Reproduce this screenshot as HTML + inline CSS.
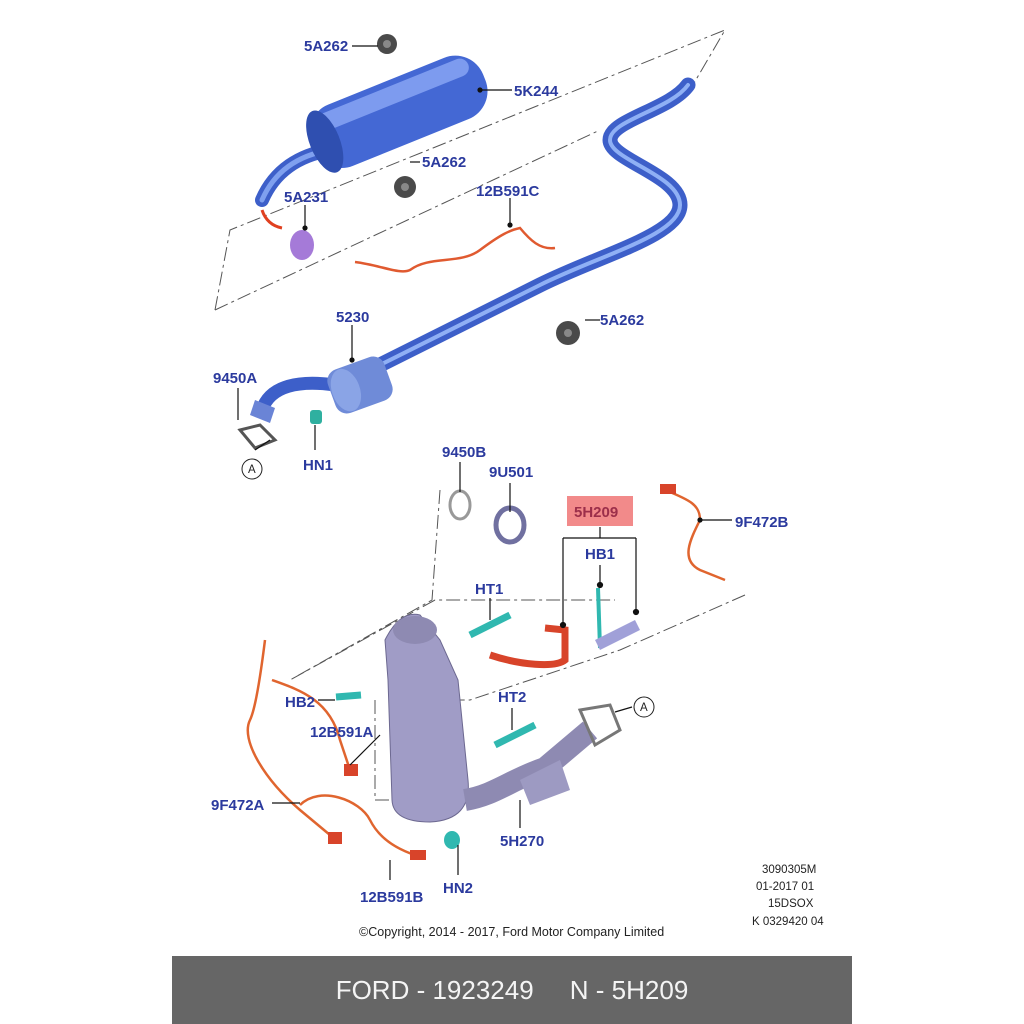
<!DOCTYPE html>
<html><head><style>
body{margin:0;background:#fff;}
.w{position:relative;width:1024px;height:1024px;overflow:hidden;font-family:"Liberation Sans",sans-serif;}
svg text.l{font-family:"Liberation Sans",sans-serif;font-weight:bold;font-size:15px;fill:#2b3a9e;}
svg text.s{font-family:"Liberation Sans",sans-serif;font-size:11.5px;fill:#222;}
.bar{position:absolute;left:172px;top:956px;width:680px;height:68px;background:#666;color:#f4f4f4;font-size:26px;line-height:68px;text-align:center;white-space:pre;}
</style></head><body><div class="w">
<svg width="1024" height="1024" viewBox="0 0 1024 1024">
<g fill="none" stroke="#555" stroke-width="1" stroke-dasharray="14,4,3,4">
<path d="M215 310 L230 230 L725 30 L690 90"/>
<path d="M215 310 L600 130"/>
<path d="M440 490 L432 600 L290 680 L435 600 L615 600"/>
<path d="M745 595 L620 650 L470 700 L430 700"/>
<path d="M375 700 L375 800 L400 800"/>
</g>
<g fill="none" stroke-linecap="round" stroke-linejoin="round">
<path d="M262 200 C275 170 300 155 330 150" stroke="#3d5fc9" stroke-width="14"/>
<path d="M262 200 C275 170 300 155 330 150" stroke="#7fa0ef" stroke-width="5"/>
<path d="M360 375 L540 285 C600 255 680 235 680 205 C680 175 610 160 610 140 C610 120 670 110 688 85" stroke="#3d5fc9" stroke-width="15"/>
<path d="M360 375 L540 285 C600 255 680 235 680 205 C680 175 610 160 610 140 C610 120 670 110 688 85" stroke="#8fb0f5" stroke-width="4"/>
<path d="M262 410 C270 385 300 380 335 385" stroke="#3d5fc9" stroke-width="13"/>
</g>
<g transform="rotate(-22 395 110)">
<rect x="305" y="80" width="185" height="66" rx="30" fill="#4468d4"/>
<rect x="315" y="86" width="165" height="18" rx="9" fill="#7d9bef"/>
<ellipse cx="318" cy="113" rx="15" ry="33" fill="#2f4fb0"/>
</g>
<g transform="rotate(-20 360 385)">
<rect x="330" y="362" width="60" height="46" rx="12" fill="#6f8bd8"/>
<ellipse cx="345" cy="385" rx="14" ry="22" fill="#8aa4e6"/>
</g>
<path d="M255 400 l20 8 l-5 15 l-20 -8z" fill="#6a84d6"/>
<g fill="#4a4a4a"><circle cx="387" cy="44" r="10"/><circle cx="405" cy="187" r="11"/><circle cx="568" cy="333" r="12"/></g>
<g fill="#888"><circle cx="387" cy="44" r="4"/><circle cx="405" cy="187" r="4"/><circle cx="568" cy="333" r="4"/></g>
<ellipse cx="302" cy="245" rx="12" ry="15" fill="#a57ad8"/>
<path d="M262 210 q5 15 20 18" stroke="#e04020" stroke-width="3" fill="none"/>
<path d="M355 262 C380 265 400 275 410 270 C430 255 460 265 480 250 C500 235 510 230 520 228 C530 240 540 250 555 248" stroke="#e05a30" stroke-width="2.5" fill="none"/>
<path d="M240 430 l20 -5 l15 15 l-20 8z" fill="none" stroke="#555" stroke-width="3"/>
<rect x="310" y="410" width="12" height="14" rx="3" fill="#2fb0a0"/>
<path d="M385 640 Q400 610 420 615 L440 640 L458 680 L468 780 Q472 820 430 822 Q393 822 392 800 L388 680 Z" fill="#a09cc6" stroke="#6c6890"/>
<ellipse cx="415" cy="630" rx="22" ry="14" fill="#8e8ab2"/>
<path d="M465 800 C495 795 510 780 545 768 L590 730" stroke="#8e8ab2" stroke-width="22" fill="none"/>
<path d="M520 780 L560 760 L570 790 L530 805z" fill="#9d9ac2"/>
<path d="M580 710 l30 -5 l10 25 l-25 15z" fill="none" stroke="#777" stroke-width="3"/>
<path d="M490 655 C520 665 555 668 565 660 L565 630 L545 628" stroke="#d8442a" stroke-width="7" fill="none"/>
<path d="M470 635 l40 -20" stroke="#30b8b0" stroke-width="7"/>
<path d="M495 745 l40 -20" stroke="#30b8b0" stroke-width="7"/>
<path d="M336 697 l25 -2" stroke="#30b8b0" stroke-width="7"/>
<ellipse cx="452" cy="840" rx="8" ry="9" fill="#30b8b0"/>
<path d="M598 588 l2 60" stroke="#30b8b0" stroke-width="4"/>
<path d="M595 640 l40 -20 l5 10 l-40 20z" fill="#a0a0d8"/>
<ellipse cx="460" cy="505" rx="10" ry="14" fill="none" stroke="#999" stroke-width="3"/>
<ellipse cx="510" cy="525" rx="14" ry="17" fill="none" stroke="#7070a0" stroke-width="5"/>
<g stroke="#e0652f" stroke-width="2.5" fill="none">
<path d="M665 490 C690 500 700 505 700 520 C690 540 680 560 700 570 L725 580"/>
<path d="M265 640 C260 680 255 710 250 720 C240 740 265 780 300 810 L330 835"/>
<path d="M272 680 C300 690 330 700 340 740 L350 770"/>
<path d="M300 805 C320 785 360 800 370 820 C380 840 400 850 415 855"/>
</g>
<g fill="#d8442a"><rect x="660" y="484" width="16" height="10"/><rect x="344" y="764" width="14" height="12"/><rect x="328" y="832" width="14" height="12"/><rect x="410" y="850" width="16" height="10"/></g>
<g stroke="#111" stroke-width="1.2" fill="#111">
<line x1="352" y1="46" x2="378" y2="46"/><line x1="480" y1="90" x2="512" y2="90"/><circle cx="480" cy="90" r="2"/>
<line x1="410" y1="162" x2="420" y2="162"/><line x1="305" y1="205" x2="305" y2="228"/><circle cx="305" cy="228" r="2"/>
<line x1="510" y1="198" x2="510" y2="225"/><circle cx="510" cy="225" r="2"/>
<line x1="585" y1="320" x2="600" y2="320"/><line x1="352" y1="325" x2="352" y2="360"/><circle cx="352" cy="360" r="2"/>
<line x1="238" y1="388" x2="238" y2="420"/><line x1="255" y1="450" x2="270" y2="440"/>
<line x1="315" y1="425" x2="315" y2="450"/><line x1="460" y1="462" x2="460" y2="492"/><line x1="510" y1="483" x2="510" y2="512"/>
<line x1="490" y1="598" x2="490" y2="620"/><line x1="512" y1="708" x2="512" y2="730"/>
<line x1="318" y1="700" x2="335" y2="700"/><line x1="380" y1="735" x2="350" y2="765"/>
<line x1="272" y1="803" x2="300" y2="803"/><line x1="390" y1="860" x2="390" y2="880"/><line x1="458" y1="845" x2="458" y2="875"/>
<line x1="520" y1="800" x2="520" y2="828"/><line x1="700" y1="520" x2="732" y2="520"/><circle cx="700" cy="520" r="2"/>
<line x1="600" y1="527" x2="600" y2="538"/><line x1="563" y1="538" x2="636" y2="538"/>
<line x1="563" y1="538" x2="563" y2="625"/><line x1="636" y1="538" x2="636" y2="612"/>
<circle cx="563" cy="625" r="2.5"/><circle cx="636" cy="612" r="2.5"/>
<line x1="600" y1="565" x2="600" y2="585"/><circle cx="600" cy="585" r="2.5"/>
<line x1="632" y1="707" x2="615" y2="712"/>
</g>
<circle cx="252" cy="469" r="10" fill="#fff" stroke="#222"/><text x="248" y="473" class="s">A</text>
<circle cx="644" cy="707" r="10" fill="#fff" stroke="#222"/><text x="640" y="711" class="s">A</text>
<rect x="567" y="496" width="66" height="30" fill="#f28a8a"/>
<text x="574" y="517" class="l" style="fill:#9c2f4a">5H209</text>
<text x="304" y="51" class="l">5A262</text><text x="514" y="96" class="l">5K244</text>
<text x="422" y="167" class="l">5A262</text><text x="284" y="202" class="l">5A231</text>
<text x="476" y="196" class="l">12B591C</text><text x="600" y="325" class="l">5A262</text>
<text x="336" y="322" class="l">5230</text><text x="213" y="383" class="l">9450A</text>
<text x="303" y="470" class="l">HN1</text><text x="442" y="457" class="l">9450B</text>
<text x="489" y="477" class="l">9U501</text><text x="585" y="559" class="l">HB1</text>
<text x="735" y="527" class="l">9F472B</text><text x="475" y="594" class="l">HT1</text>
<text x="285" y="707" class="l">HB2</text><text x="498" y="702" class="l">HT2</text>
<text x="310" y="737" class="l">12B591A</text><text x="211" y="810" class="l">9F472A</text>
<text x="500" y="846" class="l">5H270</text><text x="360" y="902" class="l">12B591B</text>
<text x="443" y="893" class="l">HN2</text>
<text x="762" y="873" class="s">3090305M</text><text x="756" y="890" class="s">01-2017 01</text>
<text x="768" y="907" class="s">15DSOX</text><text x="752" y="925" class="s">K 0329420 04</text>
<text x="359" y="936" class="s" style="font-size:12.5px">©Copyright, 2014 - 2017, Ford Motor Company Limited</text>
</svg>
<div class="bar">FORD - 1923249     N - 5H209</div>
</div></body></html>
